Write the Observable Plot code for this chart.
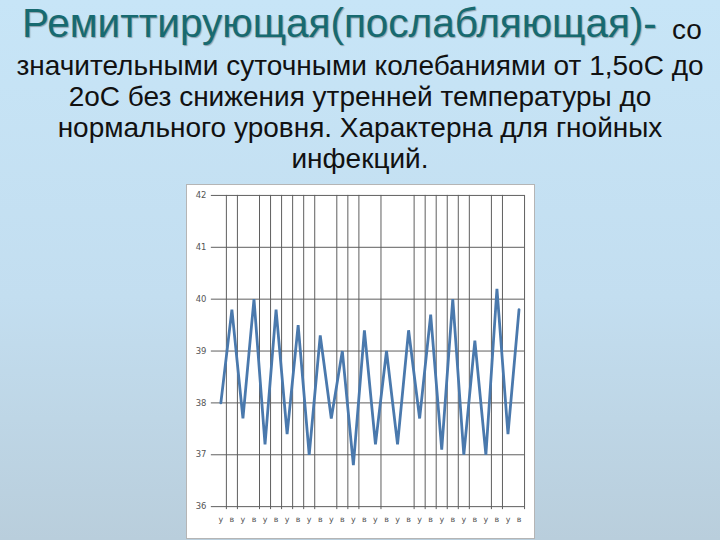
<!DOCTYPE html>
<html>
<head>
<meta charset="utf-8">
<script src="https://cdn.jsdelivr.net/npm/d3@7"></script>
<script src="https://cdn.jsdelivr.net/npm/@observablehq/plot@0.6"></script>
<style>
  html, body { margin: 0; padding: 0; }
  body {
    width: 720px; height: 540px; overflow: hidden; position: relative;
    background: linear-gradient(to bottom, #c7e5f7 0%, #c3def0 55%, #b9cedc 100%);
    font-family: "Liberation Sans", Arial, sans-serif;
  }
  #title {
    position: absolute; left: 22px; top: 1px;
    font-size: 40.5px; line-height: 44px; white-space: nowrap;
    color: #176a70; text-shadow: 1px 1px 1px rgba(0,0,0,0.3);
  }
  #so {
    position: absolute; left: 672px; top: 14px;
    font-size: 28px; line-height: 31px; color: #111; white-space: nowrap;
  }
  #body {
    position: absolute; left: 0; top: 50px; width: 720px;
    text-align: center; font-size: 28px; line-height: 31px; color: #111;
  }
  #chart {
    position: absolute; left: 186px; top: 184px; width: 349px; height: 355px;
    background: #fff; border: 1px solid #b5b5b5; box-sizing: border-box;
  }
  #chart svg { position: absolute; left: -1px; top: -1px; }
</style>
</head>
<body>
<div id="title">Ремиттирующая(послабляющая)-</div>
<div id="so">со</div>
<div id="body">значительными суточными колебаниями от 1,5оС до<br>2оС без снижения утренней температуры до<br>нормального уровня. Характерна для гнойных<br>инфекций.</div>
<div id="chart"></div>
<script>
// Time-of-day labels (у = утро, в = вечер)
const labels = ["у","в","у","в","у","в","у","в","у","в","у","в","у","в",
                "у","в","у","в","у","в","у","в","у","в","у","в","у","в"];
// Temperature readings, °C
const temps = [38.0, 39.8, 37.7, 40.0, 37.2, 39.8, 37.4, 39.5, 37.0, 39.3,
               37.7, 39.0, 36.8, 39.4, 37.2, 39.0, 37.2, 39.4, 37.7, 39.7,
               37.1, 40.0, 37.0, 39.2, 37.0, 40.2, 37.4, 39.8];
// Y-axis tick values
const yTicks = [36, 37, 38, 39, 40, 41, 42];
// Category boundaries where vertical gridlines are visible
const vGrid = [0.5, 1.5, 3.5, 4.5, 5.5, 6.5, 7.5, 8.5, 10.5, 11.5, 12.5, 14.5,
               17.5, 18.5, 19.5, 20.5, 21.5, 22.5, 24.5, 25.5, 27.5];

const data = temps.map((t, i) => ({i, t, label: labels[i]}));

const chart = Plot.plot({
  width: 349, height: 354,
  marginLeft: 29, marginRight: 9, marginTop: 11, marginBottom: 30,
  style: {fontFamily: "'DejaVu Sans', sans-serif", background: "transparent"},
  x: {domain: [-0.5, 27.5], axis: null, label: null},
  y: {domain: [36, 42], axis: null, label: null},
  marks: [
    Plot.ruleY(yTicks, {stroke: "#5e5e5e", strokeWidth: 1, insetLeft: -4}),
    Plot.ruleX(vGrid, {x: d => d, stroke: "#5e5e5e", strokeWidth: 1, insetBottom: -3}),
    Plot.line(data, {x: "i", y: "t", stroke: "#4a79ad", strokeWidth: 2.8, strokeLinejoin: "miter"}),
    Plot.axisY({ticks: yTicks, label: null, tickSize: 0, tickPadding: 9, fontSize: 8.5, color: "#555", tickFormat: d => String(d)}),
    Plot.axisX(data.map(d => d.i), {label: null, tickSize: 0, tickPadding: 10, fontSize: 8, color: "#555", tickFormat: i => labels[i]})
  ]
});
document.getElementById("chart").appendChild(chart);
</script>
</body>
</html>
